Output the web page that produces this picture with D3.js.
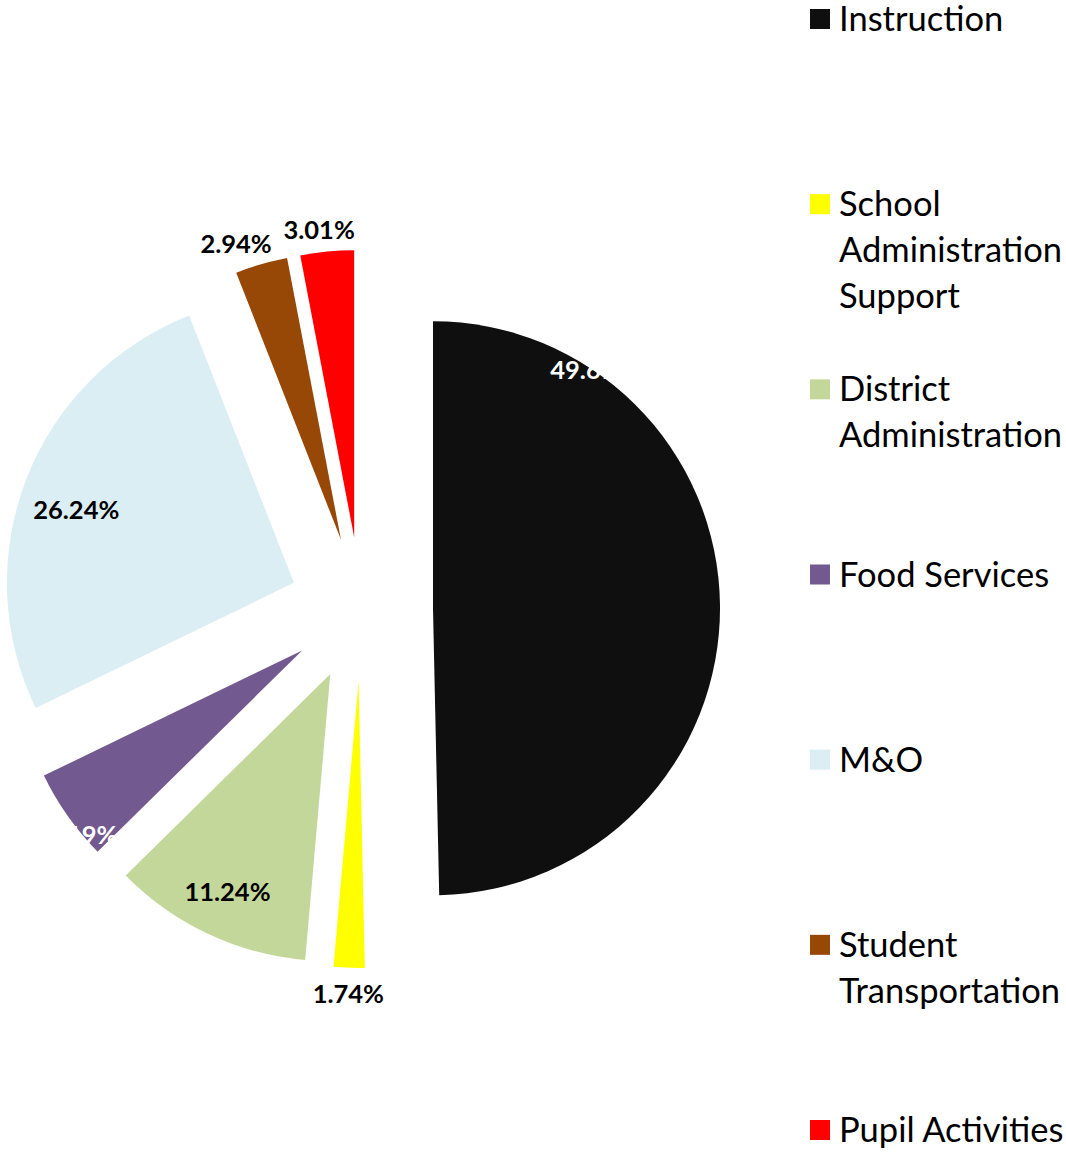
<!DOCTYPE html>
<html>
<head>
<meta charset="utf-8">
<script src="https://cdn.jsdelivr.net/npm/d3@7"></script>
<style>
  body { margin: 0; background: #fff; }
  svg { display: block; }
  .slice-label { font-family: Lato, "Open Sans", sans-serif; font-weight: 700; font-size: 25.5px; }
  .legend-text { font-family: Lato, "Open Sans", sans-serif; font-size: 34.5px; fill: #000; }
</style>
</head>
<body>
<svg id="chart" width="1066" height="1152"></svg>
<script>
// chart data
var categories = ['Instruction', 'School Administration Support', 'District Administration',
    'Food Services', 'M&O', 'Student Transportation', 'Pupil Activities'];
var shares = [49.67, 1.74, 11.24, 5.19, 26.24, 2.94, 3.01];
var colors = ['#0f0f0f', '#ffff00', '#c4d79b', '#72598f', '#dbeef4', '#974706', '#ff0000'];
var labelColors = ['#fff', '#000', '#000', '#fff', '#000', '#000', '#000'];
// where each percentage label sits: fraction of the slice's sweep and of the radius
var labelSweep = [0.19, 0.5, 0.5, 0.25, 0.47, 0.18, 0.4];
var labelRadius = [1.0, 1.09, 0.84, 1.0, 0.8, 1.095, 1.08];

var radius = 287;
var explode = 72;
var cx = 361, cy = 609;

var svg = d3.select('#chart');
var fmt = d3.format('.2f');

var pie = d3.pie().sort(null).value((d) => d)(shares);
var arc = d3.arc().innerRadius(0).outerRadius(radius);

var pieG = svg.append('g').attr('transform', `translate(${cx},${cy})`);

// shift each slice out along its middle angle
function offset(d) {
    var mid = (d.startAngle + d.endAngle) / 2;
    return [explode * Math.sin(mid), -explode * Math.cos(mid)];
}

var slices = pieG.selectAll('.slice')
    .data(pie)
    .enter()
    .append('g')
    .attr('class', 'slice')
    .attr('transform', (d) => `translate(${offset(d)[0]},${offset(d)[1]})`);

slices.append('path')
    .attr('d', arc)
    .attr('fill', (d, i) => colors[i]);

slices.append('text')
    .attr('class', 'slice-label')
    .attr('text-anchor', 'middle')
    .attr('dy', '0.36em')
    .attr('fill', (d, i) => labelColors[i])
    .attr('x', (d, i) => {
        var a = d.startAngle + (d.endAngle - d.startAngle) * labelSweep[i];
        return radius * labelRadius[i] * Math.sin(a);
    })
    .attr('y', (d, i) => {
        var a = d.startAngle + (d.endAngle - d.startAngle) * labelSweep[i];
        return -radius * labelRadius[i] * Math.cos(a);
    })
    .text((d) => fmt(d.data) + '%');

// legend on the right, one entry per category
var legendY = d3.scalePoint()
    .domain(categories)
    .range([19, 1130]);
var lineHeight = 46;
var maxWidth = 236;

var legend = svg.append('g').attr('transform', 'translate(810,0)');
var items = legend.selectAll('.legend-item')
    .data(categories)
    .enter()
    .append('g')
    .attr('class', 'legend-item')
    .attr('transform', (d) => `translate(0,${legendY(d)})`);

items.append('rect')
    .attr('x', 0)
    .attr('y', -10)
    .attr('width', 20)
    .attr('height', 20)
    .attr('fill', (d, i) => colors[i]);

items.each(function (d) {
    var g = d3.select(this);
    var text = g.append('text')
        .attr('class', 'legend-text')
        .attr('x', 29)
        .attr('y', 0);
    // simple word wrap
    var words = d.split(' ');
    var line = [];
    var lineNo = 0;
    var tspan = text.append('tspan').attr('x', 29).attr('dy', '0.35em');
    words.forEach((w) => {
        line.push(w);
        tspan.text(line.join(' '));
        if (tspan.node().getComputedTextLength() > maxWidth && line.length > 1) {
            line.pop();
            tspan.text(line.join(' '));
            line = [w];
            lineNo++;
            tspan = text.append('tspan')
                .attr('x', 29)
                .attr('y', lineNo * lineHeight)
                .attr('dy', '0.35em')
                .text(w);
        }
    });
});
</script>
</body>
</html>
